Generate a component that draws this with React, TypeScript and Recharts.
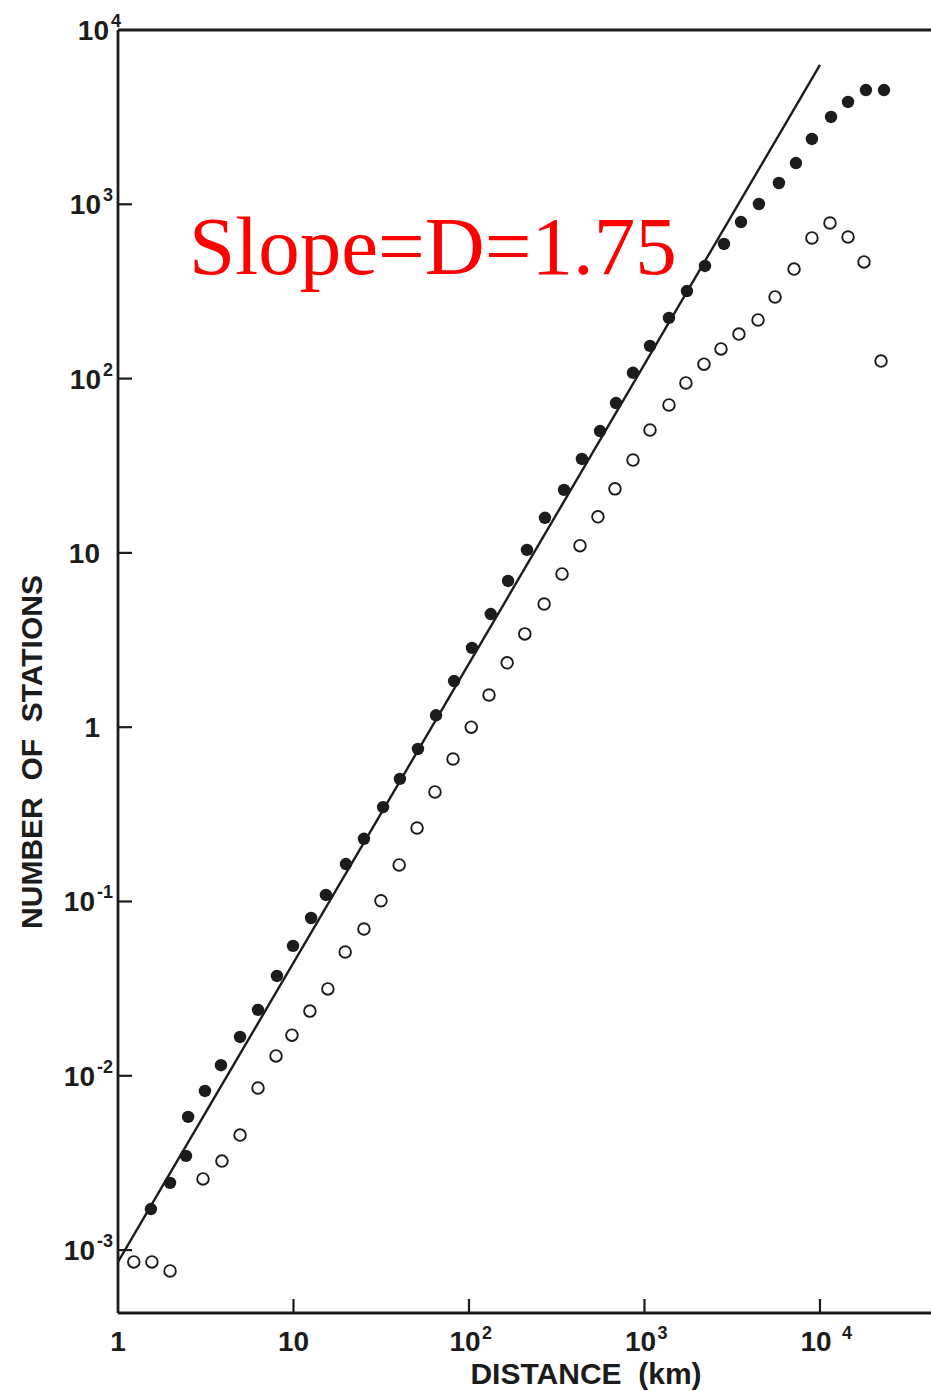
import React from 'react';
import { ScatterChart, Scatter, XAxis, YAxis, ReferenceLine } from 'recharts';

// Filled circles (cumulative number of stations)
const filledX = [1.54, 1.98, 2.44, 2.51, 3.13, 3.86, 4.96, 6.28, 8.05, 9.94, 12.6, 15.3, 19.9, 25.2, 32.4, 40.4, 51.2, 64.9, 82.2, 104, 133, 167, 214, 271, 348, 440, 558, 688, 860, 1075, 1379, 1746, 2212, 2838, 3548, 4487, 5834, 7295, 8995, 11560, 14450, 18280, 23170];
const filledY = [1.72e-3, 2.43e-3, 3.47e-3, 5.81e-3, 8.18e-3, 1.15e-2, 1.67e-2, 2.39e-2, 3.74e-2, 5.56e-2, 8.04e-2, 0.109, 0.164, 0.229, 0.348, 0.505, 0.75, 1.17, 1.84, 2.85, 4.46, 6.9, 10.4, 15.9, 23.0, 34.6, 50.0, 72.4, 108, 154, 223, 318, 443, 592, 791, 1004, 1325, 1725, 2371, 3170, 3864, 4525, 4525];

// Open circles
const openX = [1.23, 1.56, 1.98, 3.05, 3.91, 4.96, 6.28, 7.95, 9.8, 12.4, 15.7, 19.7, 25.2, 31.5, 40.0, 50.6, 64.0, 81.1, 103, 130, 165, 208, 268, 339, 429, 543, 679, 860, 1075, 1379, 1722, 2183, 2729, 3453, 4436, 5546, 7116, 8995, 11400, 14450, 17820, 22280];
const openY = [8.55e-4, 8.55e-4, 7.59e-4, 2.56e-3, 3.24e-3, 4.57e-3, 8.51e-3, 1.3e-2, 1.71e-2, 2.35e-2, 3.15e-2, 5.13e-2, 6.95e-2, 0.101, 0.162, 0.264, 0.425, 0.657, 1.0, 1.53, 2.34, 3.43, 5.09, 7.57, 11.0, 16.1, 23.3, 34.1, 50.7, 70.6, 94.4, 121, 148, 180, 217, 294, 425, 641, 781, 649, 467, 126];

// Fitted power-law line
const fitX = [1, 10000];
const fitY = [8.55e-4, 6300];

// Axes
const xTicks = [1, 10, 100, 1000, 10000];
const xTickBase = ['1', '10', '10', '10', '10'];
const xTickExp = ['', '', '2', '3', '4'];
const yTicks = [1e-3, 1e-2, 1e-1, 1, 10, 100, 1000, 10000];
const yTickBase = ['10', '10', '10', '1', '10', '10', '10', '10'];
const yTickExp = ['-3', '-2', '-1', '', '', '2', '3', '4'];

const xDomain = [1, 42920];
const yDomain = [4.355e-4, 10000];

const filledData = filledX.map((x, i) => ({ x, y: filledY[i] }));
const openData = openX.map((x, i) => ({ x, y: openY[i] }));
const fitData = fitX.map((x, i) => ({ x, y: fitY[i] }));

const INK = '#1c1c1c';
const SANS = '"Liberation Sans", Arial, Helvetica, sans-serif';

const XTick = (props: any) => {
  const { x, y, payload } = props;
  const i = xTicks.indexOf(payload.value);
  const base = xTickBase[i] ?? '';
  const exp = xTickExp[i] ?? '';
  const isFirst = i === 0;
  return (
    <g>
      {!isFirst && <line x1={x} y1={y} x2={x} y2={y - 14} stroke={INK} strokeWidth={2.2} />}
      <text x={exp ? x - 4 : x} y={y + 38} textAnchor="middle" fontFamily={SANS} fontWeight="bold" fontSize={28} fill={INK}>
        {base}
      </text>
      {exp && (
        <text x={x + (exp === '4' ? 22 : 13)} y={y + 26} textAnchor="start" fontFamily={SANS} fontWeight="bold" fontSize={18} fill={INK}>
          {exp}
        </text>
      )}
    </g>
  );
};

const YTick = (props: any) => {
  const { x, y, payload } = props;
  const i = yTicks.findIndex((t) => Math.abs(Math.log10(t) - Math.log10(payload.value)) < 1e-6);
  const base = yTickBase[i] ?? '';
  const exp = yTickExp[i] ?? '';
  const isTop = i === yTicks.length - 1;
  return (
    <g>
      {!isTop && <line x1={x} y1={y} x2={x + 14} y2={y} stroke={INK} strokeWidth={2.2} />}
      {exp ? (
        <text x={x - (isTop ? -3 : 5)} y={y + 10} textAnchor="end" fontFamily={SANS} fontWeight="bold" fill={INK}>
          <tspan fontSize={28}>{base}</tspan>
          <tspan fontSize={18} dx={2} dy={-13}>{exp}</tspan>
        </text>
      ) : (
        <text x={x - 18} y={y + 10} textAnchor="end" fontFamily={SANS} fontWeight="bold" fontSize={28} fill={INK}>
          {base}
        </text>
      )}
    </g>
  );
};

const XTitle = () => (
  <text x={586} y={1384} textAnchor="middle" fontFamily={SANS} fontWeight="bold" fontSize={30} fill={INK} style={{ whiteSpace: 'pre' }}>
    {'DISTANCE  (km)'}
  </text>
);

const YTitle = () => (
  <text
    x={42}
    y={752}
    transform="rotate(-90, 42, 752)"
    textAnchor="middle"
    fontFamily={SANS}
    fontWeight="bold"
    fontSize={30}
    fill={INK}
    style={{ whiteSpace: 'pre' }}
  >
    {'NUMBER  OF  STATIONS'}
  </text>
);

export default function App() {
  return (
    <div style={{ position: 'absolute', left: 0, top: 0, width: 931, height: 1391, background: '#fff' }}>
      <ScatterChart width={931} height={1391} margin={{ top: 30, right: 0, bottom: 0, left: 0 }}>
        <XAxis
          dataKey="x"
          type="number"
          scale="log"
          domain={xDomain}
          allowDataOverflow
          ticks={xTicks}
          tick={<XTick />}
          tickLine={false}
          tickSize={0}
          tickMargin={0}
          height={78}
          axisLine={{ stroke: INK, strokeWidth: 2.8 }}
          interval={0}
          label={<XTitle />}
        />
        <YAxis
          dataKey="y"
          type="number"
          scale="log"
          domain={yDomain}
          allowDataOverflow
          ticks={yTicks}
          tick={<YTick />}
          tickLine={false}
          tickSize={0}
          tickMargin={0}
          width={118}
          axisLine={{ stroke: INK, strokeWidth: 2.8 }}
          interval={0}
          label={<YTitle />}
        />
        <ReferenceLine y={10000} stroke={INK} strokeWidth={2.8} ifOverflow="extendDomain" />
        <Scatter
          data={fitData}
          line={{ stroke: INK, strokeWidth: 2.4 }}
          shape={() => <g />}
          isAnimationActive={false}
        />
        <Scatter
          data={openData}
          shape={(p: any) => <circle cx={p.cx} cy={p.cy} r={5.8} fill="#fff" stroke={INK} strokeWidth={1.9} />}
          isAnimationActive={false}
        />
        <Scatter
          data={filledData}
          shape={(p: any) => <circle cx={p.cx} cy={p.cy} r={6.2} fill={INK} />}
          isAnimationActive={false}
        />
      </ScatterChart>
      <svg width={931} height={1391} style={{ position: 'absolute', left: 0, top: 0, pointerEvents: 'none' }}>
        <text x={189} y={274} fontFamily='"Liberation Serif", "Times New Roman", serif' fontSize={83} fill="#ff0000">
          Slope=D=1.75
        </text>
      </svg>
    </div>
  );
}
